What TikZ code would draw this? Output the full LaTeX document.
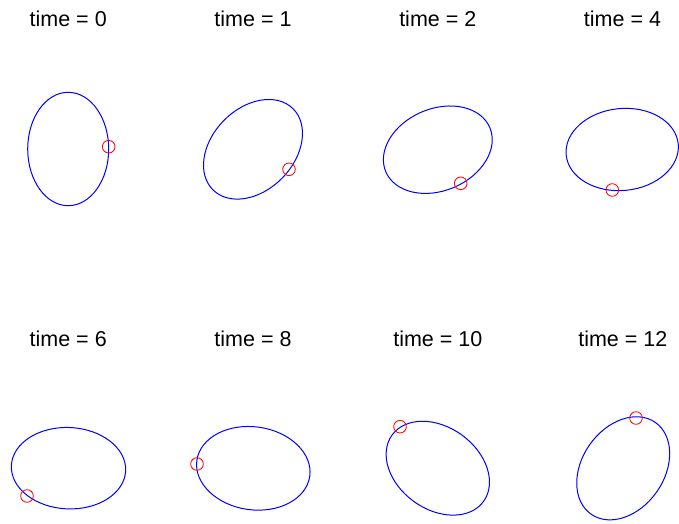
\documentclass[tikz,border=0pt]{standalone}
\usepackage{fontspec}
\setmainfont{Liberation Sans}
\usepackage{tikz}
\tikzset{
  orbit-curve/.style={draw=blue, line width=1pt},
  tracer-mark/.style={draw=red, line width=0.85pt},
  panel-title/.style={font=\fontsize{21.5}{25}\selectfont, anchor=base, inner sep=0pt}
}

\begin{document}
\begin{tikzpicture}[x=1pt, y=1pt]
  \useasboundingbox (0,0) rectangle (679,523);

  % --- Top row ---
  % time = 0
  \node[panel-title] (title0) at (68.2,496.3) {time = 0};
  \draw[orbit-curve, rotate around={90:(68.2,374)}] (68.2,374) ellipse [x radius=56.7, y radius=40.5];
  \draw[tracer-mark] (108.7,376.3) circle [radius=6.3];

  % time = 1
  \node[panel-title] (title1) at (253,496.3) {time = 1};
  \draw[orbit-curve, rotate around={45.6:(253,373.7)}] (253,373.7) ellipse [x radius=57, y radius=41];
  \draw[tracer-mark] (289,353.7) circle [radius=6.3];

  % time = 2
  \node[panel-title] (title2) at (437.8,496.3) {time = 2};
  \draw[orbit-curve, rotate around={23:(437.8,373.3)}] (437.8,373.3) ellipse [x radius=56.5, y radius=41];
  \draw[tracer-mark] (460.7,339.7) circle [radius=6.3];

  % time = 4
  \node[panel-title] (title4) at (622.5,496.3) {time = 4};
  \draw[orbit-curve, rotate around={5.6:(622.2,373.5)}] (622.2,373.5) ellipse [x radius=56.3, y radius=41];
  \draw[tracer-mark] (612.3,333) circle [radius=6.3];

  % --- Bottom row ---
  % time = 6
  \node[panel-title] (title6) at (68.2,177) {time = 6};
  \draw[orbit-curve, rotate around={-2.6:(68.5,54.8)}] (68.5,54.8) ellipse [x radius=57.2, y radius=40.7];
  \draw[tracer-mark] (27,27) circle [radius=6.3];

  % time = 8
  \node[panel-title] (title8) at (253,177) {time = 8};
  \draw[orbit-curve, rotate around={-8:(253.3,54.7)}] (253.3,54.7) ellipse [x radius=57, y radius=41.5];
  \draw[tracer-mark] (197,59) circle [radius=6.3];

  % time = 10
  \node[panel-title] (title10) at (437.8,177) {time = 10};
  \draw[orbit-curve, rotate around={-36:(437.8,54.8)}] (437.8,54.8) ellipse [x radius=56.5, y radius=41];
  \draw[tracer-mark] (400,96.3) circle [radius=6.3];

  % time = 12
  \node[panel-title] (title12) at (622.8,177) {time = 12};
  \draw[orbit-curve, rotate around={55:(623.2,54.7)}] (623.2,54.7) ellipse [x radius=56, y radius=41];
  \draw[tracer-mark] (636,105) circle [radius=6.3];
\end{tikzpicture}
\end{document}
